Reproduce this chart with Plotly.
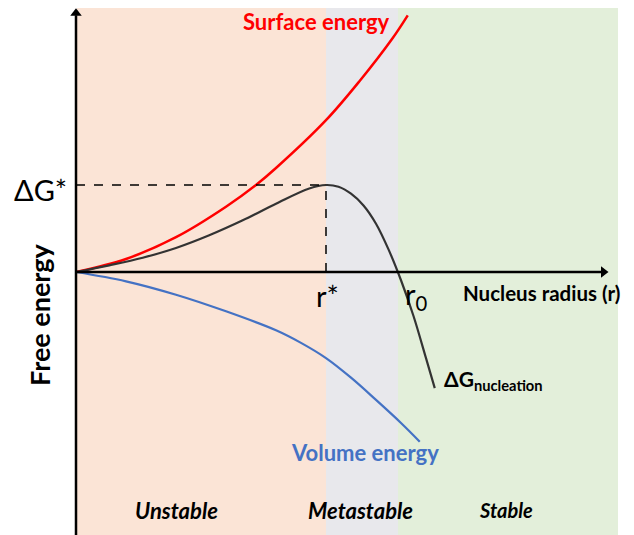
import plotly.graph_objects as go

# ---- data (arbitrary units: r* = 1, dG* = 1) ----
surface_r = [0, 0.2, 0.4, 0.6, 0.72, 0.8, 1.0, 1.133, 1.267, 1.327]
surface_g = [0, 0.15, 0.40, 0.75, 1.0, 1.195, 1.745, 2.19, 2.69, 2.95]

nucl_r = [0, 0.133, 0.267, 0.4, 0.533, 0.667, 0.8, 0.933, 1.0, 1.05, 1.1, 1.15, 1.2, 1.25, 1.3, 1.35, 1.4, 1.435]
nucl_g = [0, 0.077, 0.164, 0.276, 0.422, 0.594, 0.785, 0.96, 1.0, 0.98, 0.90, 0.765, 0.555, 0.26, -0.095, -0.506, -0.99, -1.335]

volume_r = [0, 0.2, 0.4, 0.6, 0.8, 0.9, 1.0, 1.1, 1.2, 1.3, 1.375]
volume_g = [0, -0.107, -0.261, -0.452, -0.67, -0.815, -0.99, -1.215, -1.47, -1.735, -1.95]

r_star = 1.0
dG_star = 1.0
r_zero = 1.288
r_end = 2.168
region_names = ["Unstable", "Metastable", "Stable"]

FONT = "Lato, 'Open Sans', sans-serif"

fig = go.Figure()

# regions
ytop, ybot = 3.034, -3.2
region_colors = ["#fbe4d6", "#e8e8ec", "#e3efda"]
bounds = [0.004, r_star, r_zero, r_end]
for i in range(3):
    fig.add_shape(type="rect", x0=bounds[i], x1=bounds[i + 1], y0=ybot, y1=ytop,
                  fillcolor=region_colors[i], line_width=0, layer="below")

# dashed guides
fig.add_shape(type="line", x0=0, x1=r_star, y0=dG_star, y1=dG_star,
              line=dict(color="black", width=1.5, dash="dash"))
fig.add_shape(type="line", x0=r_star, x1=r_star, y0=0, y1=dG_star,
              line=dict(color="black", width=1.5, dash="dash"))

# axes
fig.add_shape(type="line", x0=0, x1=0, y0=ybot, y1=2.95, line=dict(color="black", width=2.5))
fig.add_shape(type="line", x0=0, x1=2.11, y0=0, y1=0, line=dict(color="black", width=2.5))
fig.add_trace(go.Scatter(x=[0], y=[2.975], mode="markers", hoverinfo="skip",
                         marker=dict(symbol="triangle-up", size=10, color="black")))
fig.add_trace(go.Scatter(x=[2.11], y=[0], mode="markers", hoverinfo="skip",
                         marker=dict(symbol="triangle-right", size=10, color="black")))

fig.add_trace(go.Scatter(x=surface_r, y=surface_g, mode="lines",
                         line=dict(color="#ff0000", width=2.5, shape="spline"),
                         hoverinfo="skip"))
fig.add_trace(go.Scatter(x=volume_r, y=volume_g, mode="lines",
                         line=dict(color="#4472c4", width=2.2, shape="spline"),
                         hoverinfo="skip"))
fig.add_trace(go.Scatter(x=nucl_r, y=nucl_g, mode="lines",
                         line=dict(color="#333333", width=2.2, shape="spline"),
                         hoverinfo="skip"))


def txt(x, y, s, size, color="black", bold=False, italic=False, xanchor="center", angle=0):
    if bold:
        s = "<b>" + s + "</b>"
    if italic:
        s = "<i>" + s + "</i>"
    fig.add_annotation(x=x, y=y, text=s, showarrow=False, xanchor=xanchor, yanchor="middle",
                       textangle=angle, font=dict(family=FONT, size=size, color=color))


txt(0.96, 2.874, "Surface energy", 22, "#ff0000", bold=True)
txt(-0.144, 0.95, "ΔG*", 29)
txt(-0.144, -0.494, "Free energy", 27, bold=True, angle=-90)
txt(1.004, -0.27, "r*", 29)
txt(1.36, -0.27, "r<sub>0</sub>", 29)
txt(2.185, -0.241, "Nucleus radius (r)", 20.5, bold=True, xanchor="right")
txt(1.464, -1.24, "ΔG<sub>nucleation</sub>", 21, bold=True, xanchor="left")
txt(1.156, -2.069, "Volume energy", 22, "#4472c4", bold=True)
for name, xc, sz in zip(region_names, [0.4, 1.136, 1.72], [22, 22, 20]):
    txt(xc, -2.736, name, sz, bold=True, italic=True)

# page body has an 8px margin: shift the coordinate window accordingly
fig.update_layout(
    width=634, height=535, margin=dict(l=0, r=0, t=0, b=0),
    paper_bgcolor="white", plot_bgcolor="white", showlegend=False,
    xaxis=dict(range=[-0.272, 2.264], visible=False, fixedrange=True),
    yaxis=dict(range=[-3.115, 3.0345], visible=False, fixedrange=True),
)

fig.write_html("out.html")
